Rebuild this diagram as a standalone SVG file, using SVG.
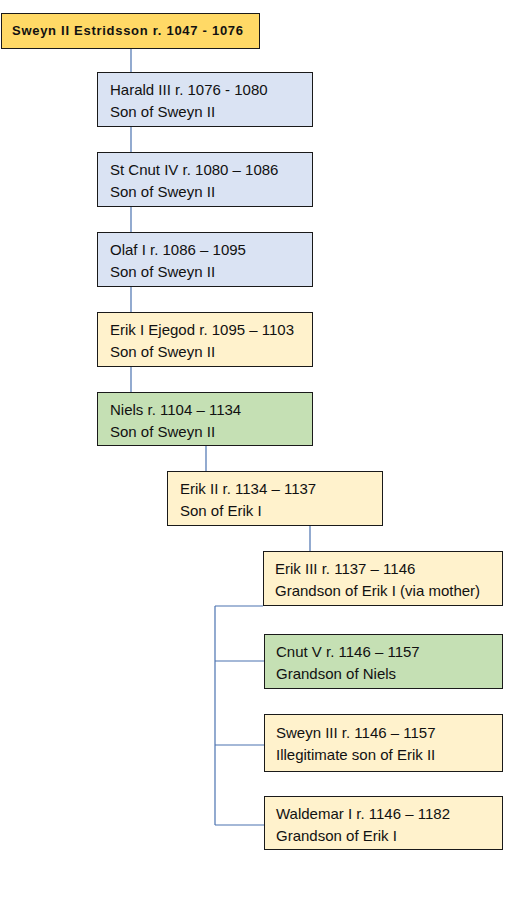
<svg xmlns="http://www.w3.org/2000/svg" width="511" height="897" viewBox="0 0 511 897">
<style>
.box{stroke:#1a1a1a;stroke-width:1}
.gold{fill:#FFD966}
.blue{fill:#DAE3F3}
.cream{fill:#FFF2CC}
.green{fill:#C5E0B4}
text{font-family:"Liberation Sans",Arial,sans-serif;font-size:15px;fill:#111}
.title{font-weight:bold;font-size:13px}
#connectors line{stroke:#4A72B0;stroke-width:1.2}
</style>
<rect width="511" height="897" fill="#fff"/>
<g id="connectors">
<line x1="131" y1="49" x2="131" y2="72"/>
<line x1="131" y1="127" x2="131" y2="152"/>
<line x1="131" y1="207" x2="131" y2="232"/>
<line x1="131" y1="287" x2="131" y2="312"/>
<line x1="131" y1="367" x2="131" y2="392"/>
<line x1="206" y1="446" x2="206" y2="471"/>
<line x1="310" y1="526" x2="310" y2="551"/>
<line x1="215" y1="606" x2="263" y2="606"/>
<line x1="215" y1="606" x2="215" y2="825"/>
<line x1="215" y1="661" x2="264" y2="661"/>
<line x1="215" y1="745" x2="264" y2="745"/>
<line x1="215" y1="825" x2="264" y2="825"/>
</g>
<g id="sweyn2">
<rect class="box gold" x="1.5" y="13.5" width="258" height="35"/>
<text class="title" x="12" y="35" textLength="231">Sweyn II Estridsson r. 1047 - 1076</text>
</g>
<g id="harald3">
<rect class="box blue" x="97.5" y="72.5" width="215" height="54"/>
<text x="110" y="95">Harald III r. 1076 - 1080</text>
<text x="110" y="117">Son of Sweyn II</text>
</g>
<g id="cnut4">
<rect class="box blue" x="97.5" y="152.5" width="215" height="54"/>
<text x="110" y="175">St Cnut IV r. 1080 – 1086</text>
<text x="110" y="197">Son of Sweyn II</text>
</g>
<g id="olaf1">
<rect class="box blue" x="97.5" y="232.5" width="215" height="54"/>
<text x="110" y="255">Olaf I r. 1086 – 1095</text>
<text x="110" y="277">Son of Sweyn II</text>
</g>
<g id="erik1">
<rect class="box cream" x="97.5" y="312.5" width="215" height="54"/>
<text x="110" y="335">Erik I Ejegod r. 1095 – 1103</text>
<text x="110" y="357">Son of Sweyn II</text>
</g>
<g id="niels">
<rect class="box green" x="97.5" y="392.5" width="215" height="53"/>
<text x="110" y="415">Niels r. 1104 – 1134</text>
<text x="110" y="437">Son of Sweyn II</text>
</g>
<g id="erik2">
<rect class="box cream" x="167.5" y="471.5" width="215" height="54"/>
<text x="180" y="494">Erik II r. 1134 – 1137</text>
<text x="180" y="516">Son of Erik I</text>
</g>
<g id="erik3">
<rect class="box cream" x="263.5" y="551.5" width="239" height="54"/>
<text x="275" y="574">Erik III r. 1137 – 1146</text>
<text x="275" y="596">Grandson of Erik I (via mother)</text>
</g>
<g id="cnut5">
<rect class="box green" x="264.5" y="634.5" width="238" height="54"/>
<text x="276" y="657">Cnut V r. 1146 – 1157</text>
<text x="276" y="679">Grandson of Niels</text>
</g>
<g id="sweyn3">
<rect class="box cream" x="264.5" y="714.5" width="238" height="57"/>
<text x="276" y="738">Sweyn III r. 1146 – 1157</text>
<text x="276" y="760">Illegitimate son of Erik II</text>
</g>
<g id="waldemar1">
<rect class="box cream" x="264.5" y="796.5" width="238" height="53"/>
<text x="276" y="819">Waldemar I r. 1146 – 1182</text>
<text x="276" y="841">Grandson of Erik I</text>
</g>
</svg>
